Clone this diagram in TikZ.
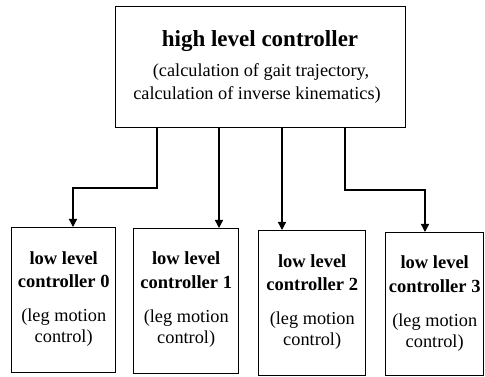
\documentclass[tikz,border=0pt]{standalone}
\usepackage{fontspec}
\setmainfont{Liberation Serif}
\usetikzlibrary{arrows.meta,calc}
\begin{document}
\begin{tikzpicture}[x=1pt,y=-1pt,
  box/.style={draw,line width=1.4pt,anchor=north west,inner sep=0pt},
  arr/.style={line width=1.3pt,-{Triangle[length=8pt,width=8pt]}},
  ttl/.style={anchor=base,inner sep=0pt,font=\fontsize{23}{27}\selectfont\bfseries},
  sub/.style={anchor=base,inner sep=0pt,font=\fontsize{18.3}{22}\selectfont},
  lbold/.style={anchor=base,inner sep=0pt,font=\fontsize{18.5}{22}\selectfont\bfseries},
  lreg/.style={anchor=base,inner sep=0pt,font=\fontsize{18.3}{22}\selectfont}]
\useasboundingbox (0,0) rectangle (485,377);
% high level box
\node[box,minimum width=290pt,minimum height=121pt] (h) at (115,6) {};
\node[ttl] (ht) at (260,47) {high level controller};
\node[sub] (hs1) at (261,77) {(calculation of gait trajectory,};
\node[sub] (hs2) at (257,100) {calculation of inverse kinematics)};
% low level boxes
\node[box,minimum width=104pt,minimum height=145pt] (b0) at (11,227) {};
\node[box,minimum width=105pt,minimum height=145pt] (b1) at (133,228) {};
\node[box,minimum width=107pt,minimum height=145pt] (b2) at (258,230) {};
\node[box,minimum width=98pt,minimum height=143pt] (b3) at (385,232) {};
\foreach \i in {0,1,2,3}{
  \node[lbold] (l\i a) at ($(b\i.north)+(0,37)$) {low level};
  \node[lbold] (l\i b) at ($(b\i.north)+(0,60)$) {controller \i};
  \node[lreg] (l\i c) at ($(b\i.north)+(0,94)$) {(leg motion};
  \node[lreg] (l\i d) at ($(b\i.north)+(0,115)$) {control)};
}
% connectors
\coordinate (s0) at (157,127);
\coordinate (s1) at (219,127);
\coordinate (s2) at (282,127);
\coordinate (s3) at (345,127);
\coordinate (t0) at (73,227);
\coordinate (t1) at (219,228);
\coordinate (t2) at (282,230);
\coordinate (t3) at (425,232);
\draw[arr] (s0) -- ++(0,61) -| (t0);
\draw[arr] (s1) -- (t1);
\draw[arr] (s2) -- (t2);
\draw[arr] (s3) -- ++(0,63) -| (t3);
\end{tikzpicture}
\end{document}
